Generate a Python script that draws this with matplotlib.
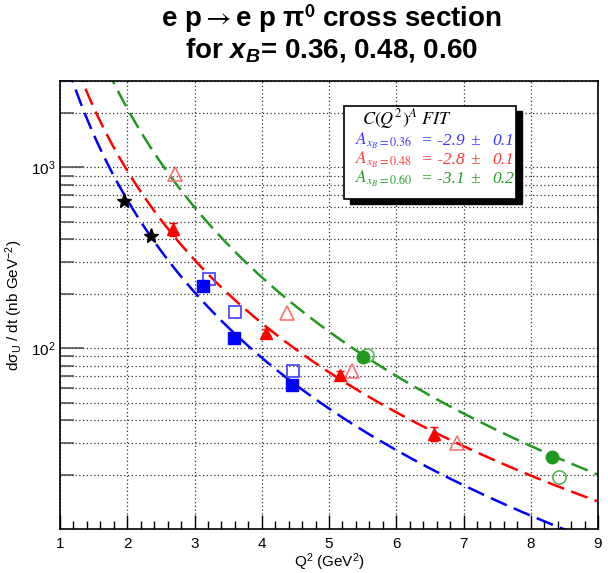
import numpy as np
import matplotlib
matplotlib.use("Agg")
from matplotlib import pyplot as plt
from matplotlib.ticker import MultipleLocator, LogLocator, NullFormatter
from matplotlib.patches import Rectangle

plt.rcParams['font.family'] = ['Liberation Sans', 'DejaVu Sans']
plt.rcParams['mathtext.fontset'] = 'custom'
plt.rcParams['mathtext.rm'] = 'Liberation Sans'
plt.rcParams['mathtext.it'] = 'Liberation Sans:italic'
plt.rcParams['mathtext.bf'] = 'Liberation Sans:bold'
plt.rcParams['mathtext.bfit'] = 'Liberation Sans:bold:italic'

# data
star_q2 = [1.95, 2.35]
star_xs = [651, 417]

blue_q2 = [3.12, 3.58, 4.45]
blue_xs = [221, 114, 62.5]
blue_open_q2 = [3.21, 3.60, 4.47]
blue_open_xs = [240, 159, 74.6]

red_q2 = [2.68, 4.06, 5.16, 6.56]
red_xs = [454, 120.5, 71.0, 33.5]
red_err = [38, 7, 4, 3]
red_open_q2 = [2.71, 4.37, 5.34, 6.91]
red_open_xs = [923, 156, 75, 29.8]

green_q2 = [5.51, 8.32]
green_xs = [88.9, 25.1]
green_open_q2 = [5.56, 8.42]
green_open_xs = [91.5, 19.3]

# C(Q^2)^A fits
fit_C = [4930, 6670, 18140]
fit_A = [-2.9, -2.8, -3.1]
fit_err = [0.1, 0.1, 0.2]
fit_xb = ['0.36', '0.48', '0.60']
fit_col = ['#0000ff', '#ff0000', '#1f9a1f']
text_col = ['#3a3aff', '#ff3a3a', '#2a9e2a']

fig = plt.figure(figsize=(6.08, 5.73), dpi=100)
ax = fig.add_axes([60/608, 1-529/573, 538/608, 448/573])
ax.set_yscale('log')
ax.set_xlim(1, 9)
ax.set_ylim(10, 3000)

ax.grid(True, which='major', axis='x', color='#333333', ls=(0, (1, 2)), lw=0.9)
ax.grid(True, which='both', axis='y', color='#333333', ls=(0, (1, 2)), lw=0.9)
ax.set_axisbelow(True)

q = np.linspace(1, 9, 500)
for C, A, col in zip(fit_C, fit_A, fit_col):
    ax.plot(q, C * q**A, color=col, lw=1.8, dashes=(7, 3), zorder=2)

ax.plot(blue_open_q2, blue_open_xs, 's', mfc='none', mec='#4d4dff', mew=1.3, ms=9, zorder=3)
ax.plot(red_open_q2, red_open_xs, '^', mfc='none', mec='#ff7070', mew=1.2, ms=10, zorder=3)
ax.plot(green_open_q2, green_open_xs, 'o', mfc='none', mec='#55b855', mew=1.2, ms=9.5, zorder=3)

ax.plot(star_q2, star_xs, '*', color='black', ms=11, zorder=4)
ax.plot(blue_q2, blue_xs, 's', color='#0000ff', ms=8.5, zorder=4)
ax.errorbar(red_q2, red_xs, yerr=red_err, fmt='^', color='#ff0000', ms=9,
            capsize=3, elinewidth=1, zorder=4)
ax.plot(green_q2, green_xs, 'o', color='#1f9a1f', ms=9, zorder=4)

# axis styling
for s in ax.spines.values():
    s.set_linewidth(1.2)
ax.xaxis.set_major_locator(MultipleLocator(1))
ax.xaxis.set_minor_locator(MultipleLocator(0.2))
ax.tick_params(axis='x', which='major', direction='in', length=10, width=1, top=False, labelsize=11, pad=6)
ax.tick_params(axis='x', which='minor', direction='in', length=6, width=1, top=False)
ax.set_yticks([100, 1000])
ax.set_yticklabels(['$10^2$', '$10^3$'])
ax.yaxis.set_minor_locator(LogLocator(base=10, subs=np.arange(2, 10)))
ax.yaxis.set_minor_formatter(NullFormatter())
ax.tick_params(axis='y', which='major', direction='in', length=17, width=1.2, color='#555555', right=False, labelsize=11)
ax.tick_params(axis='y', which='minor', direction='in', length=10, width=1.2, color='#555555', right=False)

ax.set_xlabel('Q$^2$ (GeV$^2$)', fontsize=11, labelpad=0)
ax.set_ylabel('d\u03c3$_{\\mathrm{U}}$ / dt (nb GeV$^{\\mathrm{-2}}$)', fontsize=11, labelpad=4)

# title
fig.text(0.545, 0.967, 'e p$\\rightarrow$e p \u03c0$^{\\mathbf{0}}$ cross section', ha='center', va='center',
         fontsize=20, fontweight='bold', math_fontfamily='stixsans')
fig.text(0.545, 0.912, 'for $\\mathbfit{x}_{\\mathbfit{B}}$= 0.36, 0.48, 0.60', ha='center', va='center',
         fontsize=20, fontweight='bold')

# fit box with shadow
bx0, bx1, by0, by1 = 344/608, 516/608, 1-199/573, 1-106/573
fig.patches.append(Rectangle((bx0 + 6/608, by0 - 5/573), bx1-bx0, by1-by0, transform=fig.transFigure,
                             facecolor='black', edgecolor='black', zorder=5))
fig.patches.append(Rectangle((bx0, by0), bx1-bx0, by1-by0, transform=fig.transFigure,
                             facecolor='white', edgecolor='black', lw=1.2, zorder=6))
fig.text(362/608, 1-119/573, '$C(Q^2)^A\\ FIT$', fontsize=13, va='center', ha='left',
         math_fontfamily='stix', zorder=7)
for i in range(3):
    y = 1 - (141 + 19*i)/573
    fig.text(355/608, y, '$A_{x_{B}=%s}$' % fit_xb[i], fontsize=12.5, va='center', ha='left',
             color=text_col[i], math_fontfamily='stix', zorder=7)
    fig.text(421/608, y, '= %.1f' % fit_A[i], fontsize=12.5, va='center', ha='left',
             color=text_col[i], family='Liberation Serif', style='italic', zorder=7)
    fig.text(470/608, y, '\u00b1', fontsize=12.5, va='center', ha='left',
             color=text_col[i], family='Liberation Serif', zorder=7)
    fig.text(492/608, y, '%.1f' % fit_err[i], fontsize=12.5, va='center', ha='left',
             color=text_col[i], family='Liberation Serif', style='italic', zorder=7)

fig.savefig('out.png', dpi=100)
